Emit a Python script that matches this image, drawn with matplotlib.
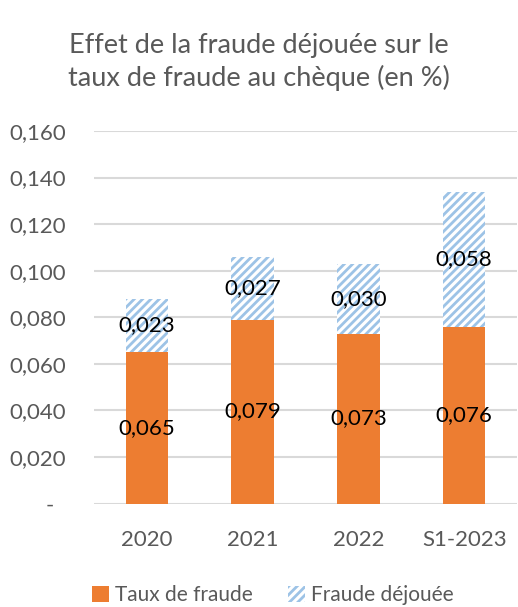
import matplotlib.pyplot as plt
from matplotlib.ticker import FixedLocator, FixedFormatter

plt.rcParams['font.family'] = ['Lato', 'DejaVu Sans']
plt.rcParams['hatch.linewidth'] = 2.0

# data
categories = ['2020', '2021', '2022', 'S1-2023']
taux_fraude = [0.065, 0.079, 0.073, 0.076]
fraude_dejouee = [0.023, 0.027, 0.030, 0.058]
y_ticks = [0, 0.02, 0.04, 0.06, 0.08, 0.10, 0.12, 0.14, 0.16]
y_labels = ['-  ', '0,020', '0,040', '0,060', '0,080', '0,100', '0,120', '0,140', '0,160']

ORANGE = '#ED7D31'
BLUE = '#9DC3E6'
GREY_TXT = '#595959'

fig = plt.figure(figsize=(5.18, 6.07), dpi=100)
ax = fig.add_axes([94 / 518, 1 - 503.5 / 607, 423 / 518, 372.5 / 607])

x = range(len(categories))
b1 = ax.bar(x, taux_fraude, width=0.4, color=ORANGE, label='Taux de fraude', zorder=3)
b2 = ax.bar(x, fraude_dejouee, width=0.4, bottom=taux_fraude, color='white',
            edgecolor=BLUE, linewidth=0, hatch='////', label='Fraude déjouée', zorder=3)

def fmt(v):
    return f'{v:.3f}'.replace('.', ',')

for i in x:
    ax.text(i, taux_fraude[i] / 2, fmt(taux_fraude[i]), ha='center', va='center',
            fontsize=16, color='black', zorder=4)
    ax.text(i, taux_fraude[i] + fraude_dejouee[i] / 2, fmt(fraude_dejouee[i]),
            ha='center', va='center', fontsize=16, color='black', zorder=4)

ax.set_xlim(-0.5, len(categories) - 0.5)
ax.set_ylim(0, 0.16)
ax.yaxis.set_major_locator(FixedLocator(y_ticks))
ax.yaxis.set_major_formatter(FixedFormatter(y_labels))
ax.set_xticks(list(x))
ax.set_xticklabels(categories)
ax.tick_params(axis='both', length=0, labelsize=16, colors=GREY_TXT)
ax.tick_params(axis='y', pad=20)
ax.tick_params(axis='x', pad=19)
ax.grid(axis='y', color='#D9D9D9', linewidth=1.5, zorder=0)
for s in ax.spines.values():
    s.set_visible(False)

fig.text(0.5, 1 - 62 / 607, 'Effet de la fraude déjouée sur le\ntaux de fraude au chèque (en %)',
         ha='center', va='center', fontsize=19.5, color=GREY_TXT, linespacing=1.3)

fig.legend(handles=[b1, b2], loc='center', bbox_to_anchor=(0.527, 1 - 595 / 607), ncol=2,
           frameon=False, fontsize=15, labelcolor=GREY_TXT, handlelength=0.8,
           handleheight=0.8, handletextpad=0.3, columnspacing=1.7)

fig.savefig('out.png', dpi=100)
